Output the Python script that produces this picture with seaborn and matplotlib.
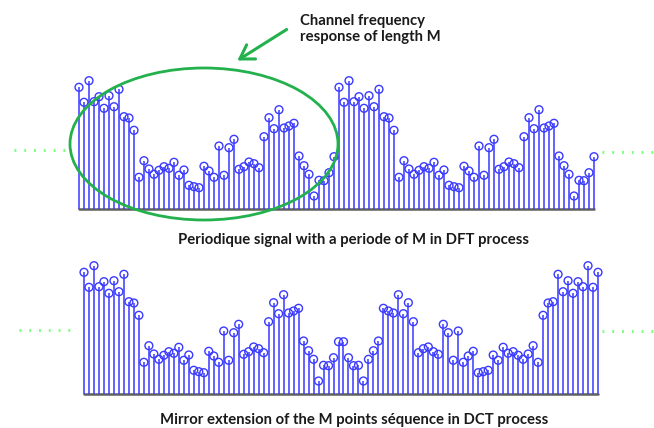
import numpy as np
import pandas as pd
import matplotlib
matplotlib.use("Agg")
import matplotlib.pyplot as plt
import seaborn as sns
from matplotlib.patches import Ellipse

sns.set_theme(style="white")
plt.rcParams['font.family'] = ['Lato', 'DejaVu Sans']

# One period (M = 52 samples) of the channel frequency response magnitude
response = [121.7, 106.7, 128.3, 107.3, 112.3, 100.7, 113.3, 102.3, 119.7, 92.3,
            91.0, 78.7, 31.7, 48.3, 40.0, 34.7, 38.7, 42.3, 40.7, 46.7,
            33.7, 39.0, 23.7, 22.3, 21.3, 42.7, 38.0, 31.7, 63.0, 33.7,
            61.3, 69.7, 39.7, 42.3, 47.0, 45.3, 41.3, 72.3, 91.3, 80.3,
            99.3, 81.0, 83.0, 85.7, 53.0, 43.3, 34.7, 13.0, 28.7, 28.3,
            36.3, 52.3]

dft_signal = response + response            # periodic extension (2 periods)
dct_signal = response + response[::-1]      # mirror extension

top_caption = "Periodique signal with a periode of M in DFT process"
bottom_caption = "Mirror extension of the M points séquence in DCT process"
note_text = "Channel frequency\nresponse of length M"

W, H = 654, 428
fig = plt.figure(figsize=(W / 100, H / 100), dpi=100)
fig.patch.set_facecolor("white")

stem_color = "#3a3aff"
base_color = "#606060"


def stem_axes(left_px, right_px, base_px, values):
    h = 130
    ax = fig.add_axes([left_px / W, (H - base_px) / H,
                       (right_px - left_px) / W, h / H])
    df = pd.DataFrame({"n": np.arange(len(values)), "v": values})
    ax.plot([0, len(values) - 1], [0, 0], color=base_color, lw=1.8,
            clip_on=False, zorder=1)
    ax.vlines(df["n"], 0, df["v"], color=stem_color, lw=1.3, alpha=0.85,
              clip_on=False, zorder=2)
    sns.scatterplot(data=df, x="n", y="v", ax=ax, marker="o", s=32,
                    facecolor="none", edgecolor=stem_color, linewidth=1.0,
                    clip_on=False, zorder=3, legend=False)
    ax.set_xlim(0, len(values) - 1)
    ax.set_ylim(0, h)
    ax.axis("off")
    return ax


stem_axes(79, 594, 209, dft_signal)
stem_axes(84, 598, 394, dct_signal)

# overlay in pixel coordinates for annotations
ov = fig.add_axes([0, 0, 1, 1], zorder=10)
ov.set_xlim(0, W)
ov.set_ylim(H, 0)
ov.axis("off")
ov.patch.set_alpha(0)

dot_kw = dict(color="#7dff7d", lw=2.2, linestyle=(0, (0.6, 2.6)))
ov.plot([14, 68], [150, 150], **dot_kw)
ov.plot([602, 654], [152, 152], **dot_kw)
ov.plot([19, 77], [330, 330], **dot_kw)
ov.plot([602, 654], [331, 331], **dot_kw)

ov.add_patch(Ellipse((204, 144), 268, 152, fill=False, ec="#22b14c", lw=2.0))
ov.annotate("", xy=(235, 62), xytext=(289, 28),
            arrowprops=dict(arrowstyle="->,head_length=0.8,head_width=0.5",
                            color="#22b14c", lw=2.2))

ov.text(300, 29, note_text, ha="left", va="center", fontsize=10.7,
        fontweight="bold", color="#1a1a1a", linespacing=1.25)
ov.text(354, 240, top_caption, ha="center", va="center", fontsize=10.7,
        fontweight="bold", color="#1a1a1a")
ov.text(354, 420, bottom_caption, ha="center", va="center", fontsize=10.7,
        fontweight="bold", color="#1a1a1a")

fig.savefig("out.png", dpi=100, facecolor="white")
